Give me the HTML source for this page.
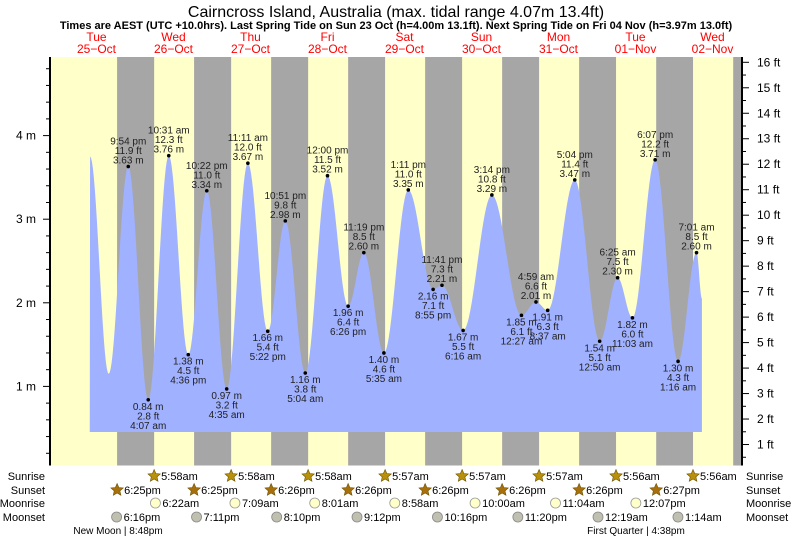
<!DOCTYPE html>
<html><head><meta charset="utf-8"><style>
body{margin:0;background:#fff;}
svg{display:block;font-family:"Liberation Sans",sans-serif;}
</style></head><body>
<svg id="c" width="793" height="539" viewBox="0 0 793 539" xmlns="http://www.w3.org/2000/svg">
<text x="396" y="17" text-anchor="middle" font-size="16" fill="#000">Cairncross Island, Australia (max. tidal range 4.07m 13.4ft)</text>
<text x="396" y="29" text-anchor="middle" font-size="11" font-weight="bold" fill="#000">Times are AEST (UTC +10.0hrs). Last Spring Tide on Sun 23 Oct (h=4.00m 13.1ft). Next Spring Tide on Fri 04 Nov (h=3.97m 13.0ft)</text>
<g id="bg"></g><g id="tide"></g><g id="lbl"></g><g id="axes"></g><g id="astro"></g>
</svg>
<script>
const dayNames=["Tue","Wed","Thu","Fri","Sat","Sun","Mon","Tue","Wed"];
const dayDates=["25\u2212Oct","26\u2212Oct","27\u2212Oct","28\u2212Oct","29\u2212Oct","30\u2212Oct","31\u2212Oct","01\u2212Nov","02\u2212Nov"];
// tide extrema: hours since Tue 25 Oct 00:00, height m
const tideTimes=[10.0,15.8,21.9,28.12,34.52,40.6,46.37,52.58,59.18,65.37,70.85,77.07,84.0,90.43,95.32,101.58,109.18,116.92,119.68,126.27,135.23,144.45,148.98,152.62,161.07,168.83,174.42,179.05,186.12,193.27,199.02,200.7];
const tideHeights=[3.75,1.15,3.63,0.84,3.76,1.38,3.34,0.97,3.67,1.66,2.98,1.16,3.52,1.96,2.60,1.40,3.35,2.16,2.21,1.67,3.29,1.85,2.01,1.91,3.47,1.54,2.30,1.82,3.71,1.30,2.60,2.05];
const tideLabels=[null,null,"9:54 pm","4:07 am","10:31 am","4:36 pm","10:22 pm","4:35 am","11:11 am","5:22 pm","10:51 pm","5:04 am","12:00 pm","6:26 pm","11:19 pm","5:35 am","1:11 pm","8:55 pm","11:41 pm","6:16 am","3:14 pm","12:27 am","4:59 am","8:37 am","5:04 pm","12:50 am","6:25 am","11:03 am","6:07 pm","1:16 am","7:01 am",null];
const sunriseT=["5:58am","5:58am","5:58am","5:57am","5:57am","5:57am","5:56am","5:56am"]; // days 1..8
const sunsetT=["6:25pm","6:25pm","6:26pm","6:26pm","6:26pm","6:26pm","6:26pm","6:27pm"]; // days 0..7
const moonriseT=["6:22am","7:09am","8:01am","8:58am","10:00am","11:04am","12:07pm"]; // days 1..7
const moonsetT=[["6:16pm",0],["7:11pm",1],["8:10pm",2],["9:12pm",3],["10:16pm",4],["11:20pm",5],["12:19am",7],["1:14am",8]];
const NS="http://www.w3.org/2000/svg";
const X0=58,PXH=77/24,Y0=470,PXM=83.6,TOP=57,BOT=465.5,L=50,R=742;
const xs=t=>X0+t*PXH, ys=m=>Y0-m*PXM;
function hrs(s){const m=s.match(/(\d+):(\d+)\s*(am|pm)/);let h=+m[1]%12;if(m[3]=="pm")h+=12;return h+ +m[2]/60;}
function mk(tag,at,par,txt){const e=document.createElementNS(NS,tag);for(const k in at)e.setAttribute(k,at[k]);if(txt!=null)e.textContent=txt;document.getElementById(par).appendChild(e);return e;}
// background
let r=mk("rect",{x:L,y:TOP,width:R-L,height:BOT-TOP,fill:"#ffffc9"},"bg");


for(let d=0;d<9;d++){
  const s=d*24+hrs(sunsetT[Math.min(d,7)]);
  const e=d<8?(d+1)*24+hrs(sunriseT[d]):999;
  const x1=xs(s),x2=Math.min(xs(e),R);
  if(x1>=R)continue;
  const g=mk("rect",{x:x1,y:TOP,width:x2-x1,height:BOT-TOP,fill:"#a6a6a6"},"bg");
  
  
}
for(let d=0;d<9;d++){
  const cx=xs(d*24+12);
  const a=mk("text",{x:cx,y:41,"text-anchor":"middle","font-size":12,fill:"#ff0000"},"bg",dayNames[d]);
  
  
  const b=mk("text",{x:cx,y:53,"text-anchor":"middle","font-size":12,fill:"#ff0000"},"bg",dayDates[d]);
  
  
}
// tide curve
const base=432;
let p=`M${xs(tideTimes[0]-0.1)},${base} L${xs(tideTimes[0])},${ys(tideHeights[0])}`;
for(let i=0;i<tideTimes.length-1;i++){
  const t0=tideTimes[i],t1=tideTimes[i+1],h0=tideHeights[i],h1=tideHeights[i+1];
  for(let k=1;k<=20;k++){const f=k/20,t=t0+(t1-t0)*f,h=h0+(h1-h0)*(1-Math.cos(Math.PI*f))/2;p+=` L${xs(t).toFixed(2)},${ys(h).toFixed(2)}`;}
}
p+=` L${xs(tideTimes[tideTimes.length-1])},${base} Z`;
const tp=mk("path",{d:p,fill:"#a0b1ff"},"tide");


// labels
for(let i=0;i<tideTimes.length;i++){
  if(!tideLabels[i])continue;
  const px=xs(tideTimes[i]),py=ys(tideHeights[i]);
  const hi=tideHeights[i]>tideHeights[i-1];
  const c=mk("circle",{cx:px,cy:py,r:1.8,fill:"#000"},"lbl");
  
  
  const m=tideHeights[i].toFixed(2)+" m",ft=(tideHeights[i]*3.28084).toFixed(1)+" ft";
  const lines=hi?[[tideLabels[i],-22],[ft,-12.5],[m,-3]]:[[m,10],[ft,19.5],[tideLabels[i],29]];
  for(const [s,dy] of lines){
    const t=mk("text",{x:px,y:py+dy,"text-anchor":"middle","font-size":10,fill:"#222"},"lbl",s);
    
    
  }
}
// axes
let ax=mk("line",{x1:L,y1:TOP,x2:L,y2:BOT,stroke:"#000","stroke-width":2},"axes");

ax=mk("line",{x1:R,y1:TOP,x2:R,y2:BOT,stroke:"#000","stroke-width":2},"axes");

for(let v=0.2;v<4.95;v+=0.2){
  const y=ys(v),major=Math.abs(v-Math.round(v))<0.01;
  mk("line",{x1:major?43:46,y1:y,x2:L,y2:y,stroke:"#000","stroke-width":1},"axes");
  if(major){const t=mk("text",{x:36,y:y+4,"text-anchor":"end","font-size":12,fill:"#000"},"axes",Math.round(v)+" m");
    }
}
for(let f=0.5;f<=16.2;f+=0.5){
  const y=ys(f/3.28084),major=f%1==0;
  if(y<TOP||y>BOT)continue;
  mk("line",{x1:R,y1:y,x2:major?749:746,y2:y,stroke:"#000","stroke-width":1},"axes");
  if(major){const t=mk("text",{x:757,y:y+4,"font-size":12,fill:"#000"},"axes",f+" ft");
    }
}
// astro rows
const rows=[["Sunrise",480],["Sunset",494],["Moonrise",507],["Moonset",521]];
for(const [n,y] of rows){
  let t=mk("text",{x:45,y:y,"text-anchor":"end","font-size":11,fill:"#000"},"astro",n);
  
  t=mk("text",{x:746,y:y,"font-size":11,fill:"#000"},"astro",n);
  
}
function star(cx,cy,col){let pts=[];for(let k=0;k<10;k++){const a=-Math.PI/2+k*Math.PI/5,rr=k%2?3:6.5;pts.push((cx+rr*Math.cos(a)).toFixed(1)+","+(cy+rr*Math.sin(a)).toFixed(1));}
  return mk("polygon",{points:pts.join(" "),fill:col,stroke:"#6b5200","stroke-width":0.6},"astro");}
sunriseT.forEach((s,i)=>{const x=xs((i+1)*24+hrs(s));const g=star(x,476,"#b8900b");
  
  const t=mk("text",{x:x+7,y:480,"font-size":11,fill:"#000"},"astro",s);});
sunsetT.forEach((s,i)=>{const x=xs(i*24+hrs(s));const g=star(x,490,"#a8700d");
  
  const t=mk("text",{x:x+7,y:494,"font-size":11,fill:"#000"},"astro",s);});
moonriseT.forEach((s,i)=>{const x=xs((i+1)*24+hrs(s));const c=mk("circle",{cx:x,cy:503,r:5,fill:"#ffffc9",stroke:"#999","stroke-width":0.8},"astro");
  
  const t=mk("text",{x:x+7,y:507,"font-size":11,fill:"#000"},"astro",s);});
moonsetT.forEach(([s,d])=>{const x=xs(d*24+hrs(s));const c=mk("circle",{cx:x,cy:517,r:5,fill:"#c0c0b0",stroke:"#888","stroke-width":0.8},"astro");
  
  const t=mk("text",{x:x+7,y:521,"font-size":11,fill:"#000"},"astro",s);});
let ph=mk("text",{x:118,y:534,"text-anchor":"middle","font-size":10,fill:"#000"},"astro","New Moon | 8:48pm");

ph=mk("text",{x:636,y:534,"text-anchor":"middle","font-size":10,fill:"#000"},"astro","First Quarter | 4:38pm");

</script>
</body></html>
